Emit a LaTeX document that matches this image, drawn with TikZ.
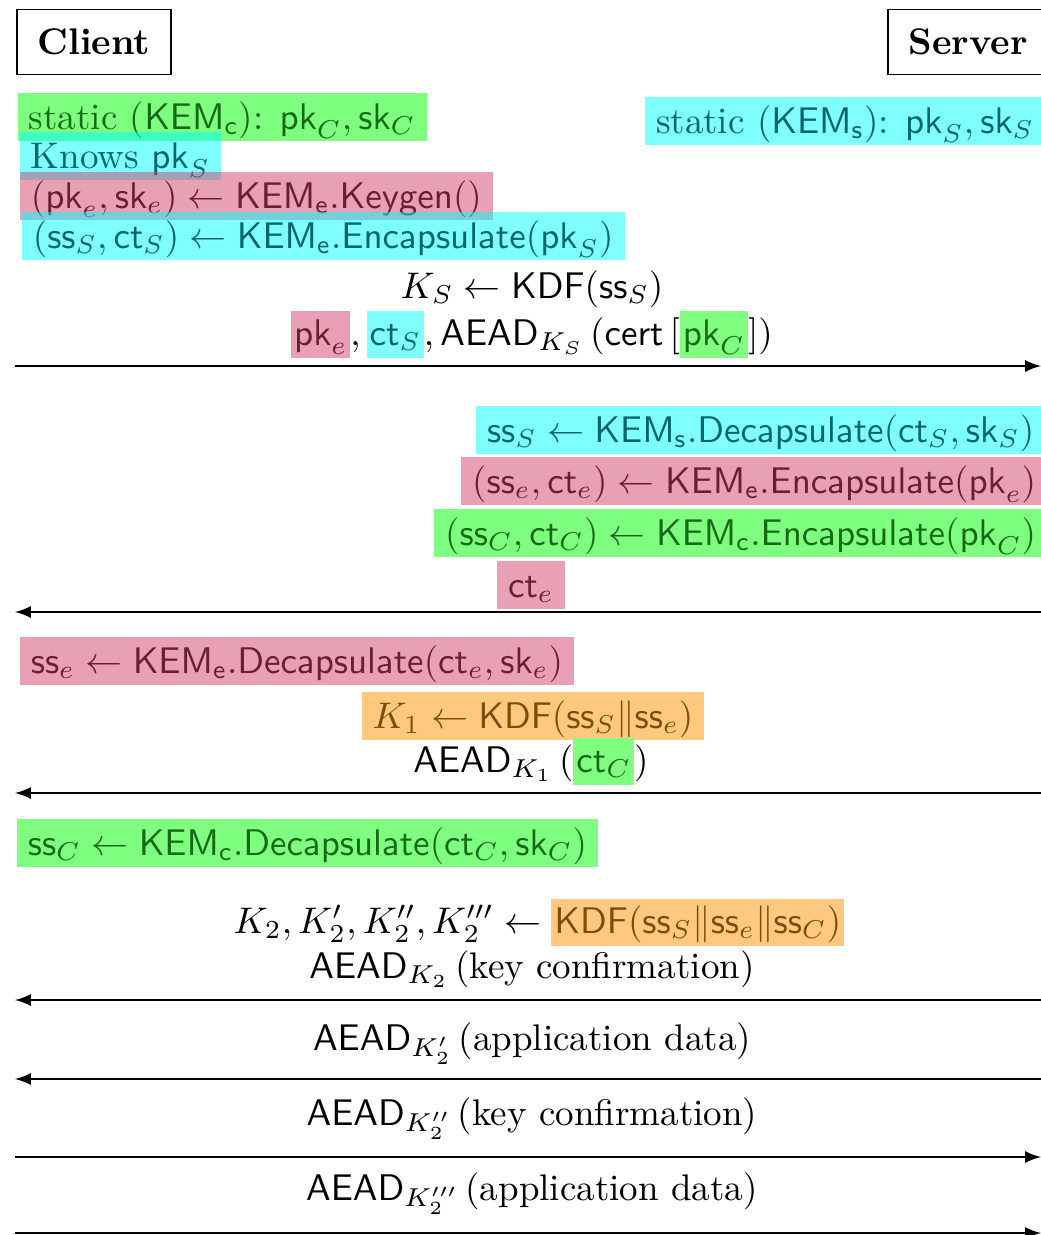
\documentclass[tikz,border=0pt]{standalone}
\usepackage{amsmath}

\definecolor{hlgreen}{RGB}{128,255,128}
\definecolor{hlcyan}{RGB}{128,255,255}
\definecolor{hlpink}{RGB}{232,160,180}
\definecolor{hlorange}{RGB}{255,200,128}
\definecolor{mkgreen}{RGB}{0,255,0}
\definecolor{mkcyan}{RGB}{0,255,255}
\definecolor{mkpink}{RGB}{209,65,105}
\definecolor{mkorange}{RGB}{255,145,0}
\definecolor{txgreen}{RGB}{20,105,20}
\definecolor{txcyan}{RGB}{0,100,110}
\definecolor{txpink}{RGB}{105,30,50}
\definecolor{txorange}{RGB}{125,75,10}
\newcommand{\hlite}[2]{{\setlength{\fboxsep}{0pt}\colorbox{hl#1}{\rule[-3.6pt]{0pt}{12.8pt}\kern0.8pt\color{tx#1}#2\kern0.8pt}}}

\begin{document}
\begin{tikzpicture}[x=0.27pt, y=-0.27pt]
\tikzset{party/.style={draw, font=\bfseries, inner xsep=5.5pt, minimum height=17.6pt},
  hlbox/.style={inner xsep=3pt, inner ysep=1.3pt, text height=8.5pt, text depth=2pt, fill opacity=0.5, text opacity=1},
  hlg/.style={hlbox, fill=mkgreen, text=txgreen},
  hlc/.style={hlbox, fill=mkcyan, text=txcyan},
  hlp/.style={hlbox, fill=mkpink, text=txpink},
  hlo/.style={hlbox, fill=mkorange, text=txorange},
  msg/.style={-latex, line width=0.5pt}}
\useasboundingbox (0,0) rectangle (1040,1235);
\node[party] (C) at (94,42) {Client};
\node[party] (S) at (968,42) {Server};
% setup
\node[hlg, anchor=base west] (T1) at (17,129) {static ($\mathsf{KEM}_{\mathsf{c}}$): $\mathsf{pk}_C, \mathsf{sk}_C$};
\node[hlc, anchor=base east] (T2) at (1046,133) {static ($\mathsf{KEM}_{\mathsf{s}}$): $\mathsf{pk}_S, \mathsf{sk}_S$};
\node[hlc, anchor=base west] (T3) at (19,168) {Knows $\mathsf{pk}_S$};
\node[hlp, anchor=base west] (T4) at (19,208) {$(\mathsf{pk}_e, \mathsf{sk}_e) \leftarrow \mathsf{KEM}_{\mathsf{e}}.\mathsf{Keygen}()$};
\node[hlc, anchor=base west] (T5) at (21,248) {$(\mathsf{ss}_S, \mathsf{ct}_S) \leftarrow \mathsf{KEM}_{\mathsf{e}}.\mathsf{Encapsulate}(\mathsf{pk}_S)$};
\node[anchor=base] (T6) at (532,298) {$K_S \leftarrow \mathsf{KDF}(\mathsf{ss}_S)$};
\node[anchor=base] (M1) at (532,345) {$\hlite{pink}{$\mathsf{pk}_e$}, \hlite{cyan}{$\mathsf{ct}_S$}, \mathsf{AEAD}_{K_S}\,(\mathsf{cert}\,[\hlite{green}{$\mathsf{pk}_C$}])$};
\coordinate (L1) at (15,366); \coordinate (R1) at (1041,366);
\draw[msg] (L1) -- (R1);
% server side
\node[hlc, anchor=base east] (T9) at (1046,442) {$\mathsf{ss}_S \leftarrow \mathsf{KEM}_{\mathsf{s}}.\mathsf{Decapsulate}(\mathsf{ct}_S, \mathsf{sk}_S)$};
\node[hlp, anchor=base east] (T10) at (1048,493) {$(\mathsf{ss}_e, \mathsf{ct}_e) \leftarrow \mathsf{KEM}_{\mathsf{e}}.\mathsf{Encapsulate}(\mathsf{pk}_e)$};
\node[hlg, anchor=base east] (T11) at (1048,545) {$(\mathsf{ss}_C, \mathsf{ct}_C) \leftarrow \mathsf{KEM}_{\mathsf{c}}.\mathsf{Encapsulate}(\mathsf{pk}_C)$};
\node[hlp, anchor=base] (M2) at (531,597) {$\mathsf{ct}_e$};
\coordinate (L2) at (15,612); \coordinate (R2) at (1041,612);
\draw[msg] (R2) -- (L2);
\node[hlp, anchor=base west] (T14) at (19,673) {$\mathsf{ss}_e \leftarrow \mathsf{KEM}_{\mathsf{e}}.\mathsf{Decapsulate}(\mathsf{ct}_e, \mathsf{sk}_e)$};
\node[hlo, anchor=base] (T15) at (533,728) {$K_1 \leftarrow \mathsf{KDF}(\mathsf{ss}_S \| \mathsf{ss}_e)$};
\node[anchor=base] (M3) at (531,772) {$\mathsf{AEAD}_{K_1}\,(\hlite{green}{$\mathsf{ct}_C$})$};
\coordinate (L3) at (15,793); \coordinate (R3) at (1041,793);
\draw[msg] (R3) -- (L3);
% client side
\node[hlg, anchor=base west] (T18) at (16,855) {$\mathsf{ss}_C \leftarrow \mathsf{KEM}_{\mathsf{c}}.\mathsf{Decapsulate}(\mathsf{ct}_C, \mathsf{sk}_C)$};
\node[anchor=base] (T19) at (539,933) {$K_2, K_2', K_2'', K_2''' \leftarrow \hlite{orange}{$\mathsf{KDF}(\mathsf{ss}_S \| \mathsf{ss}_e \| \mathsf{ss}_C)$}$};
\node[anchor=base] (M4) at (532,978) {$\mathsf{AEAD}_{K_2}$\,(key confirmation)};
\coordinate (L4) at (15,1000); \coordinate (R4) at (1041,1000);
\draw[msg] (R4) -- (L4);
\node[anchor=base] (M5) at (532,1050) {$\mathsf{AEAD}_{K_2'}$\,(application data)};
\coordinate (L5) at (15,1079); \coordinate (R5) at (1041,1079);
\draw[msg] (R5) -- (L5);
\node[anchor=base] (M6) at (532,1125) {$\mathsf{AEAD}_{K_2''}$\,(key confirmation)};
\coordinate (L6) at (15,1157); \coordinate (R6) at (1041,1157);
\draw[msg] (L6) -- (R6);
\node[anchor=base] (M7) at (532,1200) {$\mathsf{AEAD}_{K_2'''}$\,(application data)};
\coordinate (L7) at (15,1233); \coordinate (R7) at (1041,1233);
\draw[msg] (L7) -- (R7);
\end{tikzpicture}
\end{document}
